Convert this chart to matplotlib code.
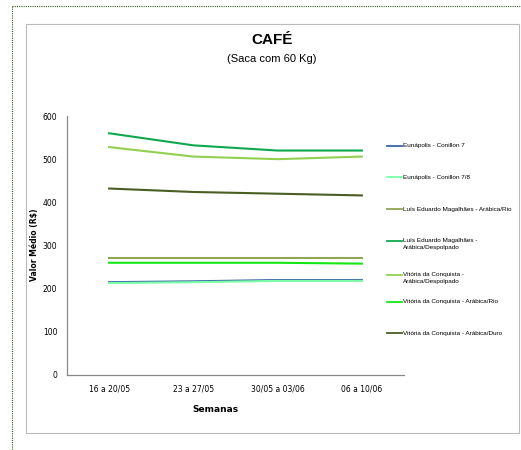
import matplotlib
matplotlib.use("Agg")
import matplotlib.pyplot as plt
from matplotlib.patches import Rectangle
from matplotlib.lines import Line2D

weeks = ["16 a 20/05", "23 a 27/05", "30/05 a 03/06", "06 a 10/06"]
series_names = [
    "Eunápolis - Conillon 7",
    "Eunápolis - Conillon 7/8",
    "Luís Eduardo Magalhães - Arábica/Rio",
    "Luís Eduardo Magalhães -\nArábica/Despolpado",
    "Vitória da Conquista -\nArábica/Despolpado",
    "Vitória da Conquista - Arábica/Rio",
    "Vitória da Conquista - Arábica/Duro",
]
eun_7 = [215, 217, 220, 220]
eun_78 = [213, 215, 218, 218]
lem_rio = [270, 270, 270, 270]
lem_desp = [560, 532, 520, 520]
vc_desp = [528, 506, 500, 506]
vc_rio = [260, 260, 260, 258]
vc_duro = [432, 424, 420, 416]
yticks = [0, 100, 200, 300, 400, 500, 600]

values = [eun_7, eun_78, lem_rio, lem_desp, vc_desp, vc_rio, vc_duro]
colors = ["#3A64A8", "#7CFFA8", "#8FA653", "#0FA84E", "#92D050", "#12E812", "#4A5E22"]

plt.rcParams['font.family'] = ['Liberation Sans', 'DejaVu Sans']
fig = plt.figure(figsize=(5.21, 4.5), dpi=100)
W, H = 521, 450

def fx(x): return x / W
def fy(y): return 1 - y / H

# outer dotted border
fig.add_artist(Line2D([fx(12), fx(12)], [fy(6), fy(450)], color="#2E5E1E", lw=0.8, ls=(0, (1, 1))))
fig.add_artist(Line2D([fx(12), fx(521)], [fy(6), fy(6)], color="#2E5E1E", lw=0.8, ls=(0, (1, 1))))
# inner chart box
fig.add_artist(Rectangle((fx(26), fy(433)), fx(519) - fx(26), fy(24) - fy(433),
                         fill=False, edgecolor="#BBBBBB", lw=0.8))

ax = fig.add_axes([fx(67), fy(375), fx(404) - fx(67), fy(116) - fy(375)])
x = list(range(len(weeks)))
for name, vals, c in zip(series_names, values, colors):
    ax.plot(x, vals, color=c, lw=1.5, label=name)

ax.set_xlim(-0.5, 3.5)
ax.set_ylim(0, 600)
ax.set_yticks(yticks)
ax.set_yticklabels([str(v) for v in yticks], fontsize=5.5, family=['DejaVu Sans'])
ax.set_xticks(x)
ax.set_xticklabels(weeks, fontsize=5.5, family=['DejaVu Sans'])
ax.tick_params(length=0, pad=7)
for s in ["top", "right"]:
    ax.spines[s].set_visible(False)
for s in ["left", "bottom"]:
    ax.spines[s].set_color("#888888")
    ax.spines[s].set_linewidth(0.9)

fig.text(fx(35), fy(245), "Valor Médio (R$)", rotation=90, ha="center", va="center",
         fontsize=5.5, fontweight="bold", family=['DejaVu Sans'])
fig.text(fx(215), fy(409), "Semanas", ha="center", va="center",
         fontsize=6.5, fontweight="bold", family=['DejaVu Sans'])
fig.text(fx(272), fy(40), "CAFÉ", ha="center", va="center", fontsize=11, fontweight="bold")
fig.text(fx(272), fy(59), "(Saca com 60 Kg)", ha="center", va="center", fontsize=8)

# legend
leg_y = [146, 177, 209, 244, 278, 302, 333]
for name, c, yy in zip(series_names, colors, leg_y):
    fig.add_artist(Line2D([fx(387), fx(402)], [fy(yy - 3 if "\n" in name else yy)] * 2, color=c, lw=1.3))
    fig.text(fx(403), fy(yy), name, ha="left", va="center", fontsize=4.6, linespacing=1.6)

fig.savefig("out.png", dpi=100)
